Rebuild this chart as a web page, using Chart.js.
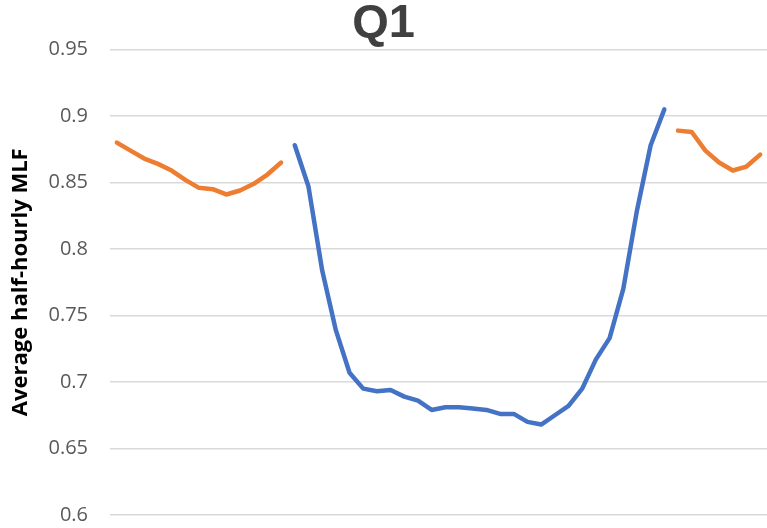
<!DOCTYPE html>
<html>
<head>
<meta charset="utf-8">
<script src="https://cdn.jsdelivr.net/npm/chart.js@4/dist/chart.umd.min.js"></script>
<style>
  html, body { margin: 0; padding: 0; background: #ffffff; }
  #wrap { width: 767px; height: 528px; }
</style>
</head>
<body>
<div id="wrap"><canvas id="c" width="767" height="528"></canvas></div>
<script>
// Half-hourly trading intervals (48 per day)
const intervals = Array.from({ length: 48 }, (_, i) => {
  const m = (i + 1) * 30;
  const h = Math.floor(m / 60) % 24;
  return String(h).padStart(2, '0') + ':' + String(m % 60).padStart(2, '0');
});

// Average MLF, off-solar periods (evening / night)
const offSolarMLF = [
  0.880, 0.874, 0.868, 0.864, 0.859, 0.852, 0.846, 0.845, 0.841, 0.844, 0.849, 0.856, 0.865,
  null, null, null, null, null, null, null, null, null, null, null, null, null, null,
  null, null, null, null, null, null, null, null, null, null, null, null, null, null,
  0.889, 0.888, 0.874, 0.865, 0.859, 0.862, 0.871
];

// Average MLF, solar periods (daytime)
const solarMLF = [
  null, null, null, null, null, null, null, null, null, null, null, null, null,
  0.878, 0.847, 0.784, 0.739, 0.707, 0.695, 0.693, 0.694, 0.689, 0.686, 0.679, 0.681, 0.681, 0.680,
  0.679, 0.676, 0.676, 0.670, 0.668, 0.675, 0.682, 0.695, 0.717, 0.733, 0.770, 0.829, 0.878, 0.905,
  null, null, null, null, null, null, null
];

const yTicks = [0.6, 0.65, 0.7, 0.75, 0.8, 0.85, 0.9, 0.95];

new Chart(document.getElementById('c'), {
  type: 'line',
  data: {
    labels: intervals,
    datasets: [
      {
        label: 'Off-solar',
        data: offSolarMLF,
        borderColor: '#ED7D31',
        backgroundColor: '#ED7D31',
        borderWidth: 4.5,
        pointRadius: 0,
        tension: 0,
        spanGaps: false,
        borderCapStyle: 'round',
        borderJoinStyle: 'round'
      },
      {
        label: 'Solar',
        data: solarMLF,
        borderColor: '#4472C4',
        backgroundColor: '#4472C4',
        borderWidth: 4.5,
        pointRadius: 0,
        tension: 0,
        spanGaps: false,
        borderCapStyle: 'round',
        borderJoinStyle: 'round'
      }
    ]
  },
  options: {
    responsive: false,
    animation: false,
    devicePixelRatio: 1,
    layout: { padding: { left: 0, right: 0, top: 0, bottom: 13 } },
    plugins: {
      legend: { display: false },
      tooltip: { enabled: false },
      title: {
        display: true,
        text: 'Q1',
        color: '#404040',
        font: { family: 'Liberation Sans', size: 47, weight: 'bold', lineHeight: 1 },
        padding: { top: 1, bottom: 1.5 }
      }
    },
    scales: {
      x: {
        display: false,
        offset: true
      },
      y: {
        min: 0.6,
        max: 0.95,
        afterBuildTicks: (scale) => {
          scale.ticks = yTicks.map(v => ({ value: v }));
        },
        afterFit: (scale) => {
          scale.width = 110;
          // keep only half a label of room above/below the plot
          scale.paddingTop = 12;
          scale.paddingBottom = 12;
        },
        border: { display: false },
        grid: {
          color: '#d9d9d9',
          lineWidth: 1.5,
          drawTicks: false
        },
        ticks: {
          padding: 22,
          color: '#595959',
          font: { family: 'Open Sans', size: 20 },
          callback: (v) => String(Math.round(v * 100) / 100)
        },
        title: {
          display: true,
          text: 'Average half-hourly MLF',
          color: '#000000',
          font: { family: 'Open Sans', size: 22, weight: 'bold' },
          padding: { top: 8, bottom: 0 }
        }
      }
    }
  }
});
</script>
</body>
</html>
